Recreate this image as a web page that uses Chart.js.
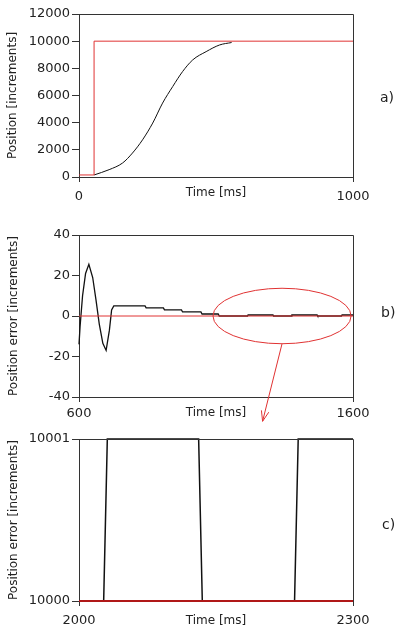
<!DOCTYPE html>
<html>
<head>
<meta charset="utf-8">
<script src="https://cdn.jsdelivr.net/npm/chart.js@4.4.0/dist/chart.umd.min.js"></script>
<style>
  body{margin:0;background:#fff;width:396px;height:632px;position:relative;overflow:hidden;font-family:"DejaVu Sans",sans-serif;}
  canvas{position:absolute;left:0;}
  .tag{position:absolute;font-size:14px;line-height:16px;color:#222;}
</style>
</head>
<body>
<canvas id="chartA" width="396" height="205" style="top:0"></canvas>
<canvas id="chartB" width="396" height="212" style="top:215px"></canvas>
<canvas id="chartC" width="396" height="205" style="top:427px"></canvas>
<div class="tag" style="left:380px;top:89px">a)</div>
<div class="tag" style="left:381px;top:304px">b)</div>
<div class="tag" style="left:382px;top:516px">c)</div>
<script>
// --- data ---
// a) step response
const timeA = [55,110,159,195,232,269,305,342,378,415,464,513,557];
const posA  = [150,540,1030,1760,2740,3970,5440,6660,7760,8620,9230,9720,9900];
const refTimeA = [0,55,55,1000];
const refPosA  = [150,150,10000,10000];
const xTicksA = [0,1000];
const yTicksA = [0,2000,4000,6000,8000,10000,12000];

// b) position error
const timeB = [600,604,613,624,636,650,662,674,687,699,711,719,727,841,845,908,912,974,978,1045,1049,1108,1112,
               1215,1217,1308,1310,1375,1377,1469,1471,1558,1560,1600];
const errB  = [-14,-5,10,21,25.5,19,8,-4,-13.5,-17,-7,3,5,5,4,4,3,3,2,2,1,1,0,
               0,0.5,0.5,0,0,0.5,0.5,0,0,0.5,0.5];
const refTimeB = [600,1600];
const refErrB  = [0,0];
const xTicksB = [600,1600];
const yTicksB = [-40,-20,0,20,40];
// zoom marker (ellipse + arrow) in data units
const ellipseB = {t:1341, v:0, dt:252, dv:13.7};
const arrowB = {t:1270, v:-52};

// c) zoom on 2000..2300 ms
const timeC = [2000,2027,2031,2131,2135,2236,2240,2300];
const posC  = [10000,10000,10001,10001,10000,10000,10001,10001];
const refTimeC = [2000,2300];
const refPosC  = [10000,10000];
const xTicksC = [2000,2300];
const yTicksC = [10000,10001];

const RED = '#e03232', INK = '#222', AXIS = '#333';
const tickFont = {family:'"DejaVu Sans", sans-serif', size:13};
const titleFont = {family:'"DejaVu Sans", sans-serif', size:12};

const pts = (xs, ys) => xs.map((x,i)=>({x, y:ys[i]}));

// draw the top and right edges of the box
const frame = {
  id:'frame',
  afterDraw(c){
    const a = c.chartArea, ctx = c.ctx;
    ctx.save();
    ctx.strokeStyle = AXIS; ctx.lineWidth = 1;
    ctx.beginPath();
    ctx.moveTo(Math.round(a.left), Math.round(a.top)+0.5);
    ctx.lineTo(Math.round(a.right)+0.5, Math.round(a.top)+0.5);
    ctx.lineTo(Math.round(a.right)+0.5, Math.round(a.bottom));
    ctx.stroke();
    ctx.restore();
  }
};

const zoomMark = {
  id:'zoomMark',
  afterDatasetsDraw(c){
    const {x, y} = c.scales, ctx = c.ctx;
    const cx = x.getPixelForValue(ellipseB.t), cy = y.getPixelForValue(ellipseB.v);
    const rx = x.getPixelForValue(ellipseB.t + ellipseB.dt) - cx;
    const ry = cy - y.getPixelForValue(ellipseB.v + ellipseB.dv);
    const tx = x.getPixelForValue(arrowB.t), ty = y.getPixelForValue(arrowB.v);
    ctx.save();
    ctx.strokeStyle = RED; ctx.lineWidth = 1;
    ctx.beginPath(); ctx.ellipse(cx, cy, rx, ry, 0, 0, Math.PI*2); ctx.stroke();
    ctx.beginPath(); ctx.moveTo(cx, cy+ry); ctx.lineTo(tx, ty); ctx.stroke();
    const ang = Math.atan2(ty-(cy+ry), tx-cx), L = 11, w = 0.35;
    ctx.beginPath();
    ctx.moveTo(tx - L*Math.cos(ang-w), ty - L*Math.sin(ang-w));
    ctx.lineTo(tx, ty);
    ctx.lineTo(tx - L*Math.cos(ang+w), ty - L*Math.sin(ang+w));
    ctx.stroke();
    ctx.restore();
  }
};

function makeChart(id, o){
  return new Chart(document.getElementById(id), {
    type:'scatter',
    data:{datasets:[
      {data:pts(o.refX, o.refY), showLine:true, borderColor:o.refColor||RED, borderWidth:o.refWidth||1,
       pointRadius:0, clip:false, order:1},
      {data:pts(o.x, o.y), showLine:true, borderColor:'#111', borderWidth:o.width||1,
       cubicInterpolationMode:o.smooth ? 'monotone' : 'default', tension:0,
       pointRadius:0, clip:false, order:2}
    ]},
    options:{
      responsive:false, animation:false, devicePixelRatio:1,
      layout:{padding:{left:0, right:43, top:o.top, bottom:0}},
      plugins:{legend:{display:false}, tooltip:{enabled:false}},
      scales:{
        x:{type:'linear', min:o.xTicks[0], max:o.xTicks[o.xTicks.length-1],
           afterBuildTicks:s=>{ s.ticks = o.xTicks.map(v=>({value:v})); },
           afterFit:s=>{ s.height = o.xH; },
           grid:{drawOnChartArea:false, drawTicks:true, tickLength:5, color:AXIS},
           border:{display:true, color:AXIS},
           ticks:{color:INK, font:tickFont, padding:o.xPad, maxRotation:0, autoSkip:false, callback:v=>String(v)},
           title:{display:true, text:'Time [ms]', color:INK, font:titleFont, padding:{top:0, bottom:o.tPad}}},
        y:{type:'linear', min:o.yTicks[0], max:o.yTicks[o.yTicks.length-1],
           afterBuildTicks:s=>{ s.ticks = o.yTicks.map(v=>({value:v})); },
           afterFit:s=>{ s.width = 79; },
           grid:{drawOnChartArea:false, drawTicks:true, tickLength:7, color:AXIS},
           border:{display:true, color:AXIS},
           ticks:{color:INK, font:tickFont, padding:2, autoSkip:false, callback:v=>String(v)},
           title:{display:true, text:o.yTitle, color:INK, font:titleFont, padding:{top:o.yPad, bottom:0}}}
      }
    },
    plugins:o.plugins || [frame]
  });
}

makeChart('chartA', {x:timeA, y:posA, refX:refTimeA, refY:refPosA, xTicks:xTicksA, yTicks:yTicksA,
  top:14, xH:28, xPad:7, tPad:5, yPad:6, yTitle:'Position [increments]', smooth:true});

makeChart('chartB', {x:timeB, y:errB, refX:refTimeB, refY:refErrB, xTicks:xTicksB, yTicks:yTicksB,
  top:20, xH:30, xPad:4, tPad:7, yPad:7, yTitle:'Position error [increments]', width:1.3,
  plugins:[frame, zoomMark]});

makeChart('chartC', {x:timeC, y:posC, refX:refTimeC, refY:refPosC, xTicks:xTicksC, yTicks:yTicksC,
  top:12, xH:31, xPad:7, tPad:4, yPad:7, yTitle:'Position error [increments]',
  refColor:'#b01818', refWidth:2, width:1.5});
</script>
</body>
</html>
